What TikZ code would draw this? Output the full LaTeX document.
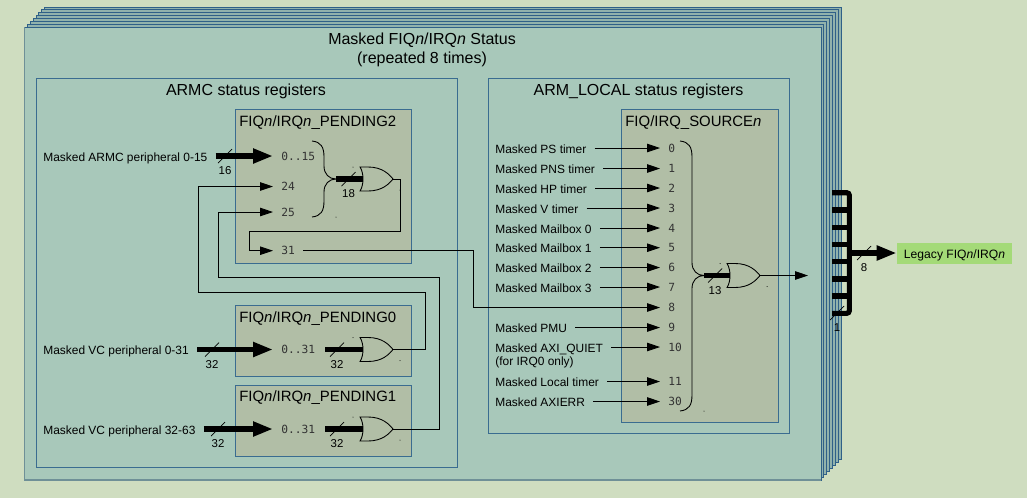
\documentclass[tikz,border=0pt]{standalone}
\usepackage{fontspec}
\setmainfont{Liberation Sans}
\newfontfamily\bitfont{DejaVu Sans Mono}
\usetikzlibrary{arrows.meta}
\definecolor{pagebg}{HTML}{CFDDC0}
\definecolor{stackfill}{HTML}{A8C8BA}
\definecolor{stackedge}{HTML}{2F6088}
\definecolor{stackgrey}{HTML}{6F9097}
\definecolor{regfill}{HTML}{B1BEA6}
\definecolor{regedge}{HTML}{3A6C90}
\definecolor{legacyfill}{HTML}{A4DA78}
\tikzset{
	stacklayer/.style={draw=stackedge, fill=stackgrey!40!stackfill, line width=0.5pt},
	groupbox/.style={draw=regedge, fill=stackfill, line width=0.5pt},
	regbox/.style={draw=regedge, fill=regfill, line width=0.5pt},
	bigtitle/.style={font=\fontsize{9.1}{10.8}\selectfont, inner sep=0pt, align=center},
	regtitle/.style={font=\fontsize{8.5}{10}\selectfont, inner sep=0pt, anchor=west},
	siglabel/.style={font=\fontsize{6.8}{8}\selectfont, text height=6.4pt, text depth=0.4pt, inner ysep=1pt, inner xsep=0.16cm, anchor=west},
	bitno/.style={font=\bitfont\fontsize{6.4}{8}\selectfont, text=black!80, inner ysep=1pt, inner xsep=0.16cm, anchor=west},
	bitlabel/.style={font=\fontsize{6.5}{8}\selectfont, inner sep=0pt},
	sigline/.style={line width=0.5pt},
	sigarrow/.style={line width=0.5pt, -{Triangle[length=0.26cm,width=0.17cm]}},
	busline/.style={line width=2.9pt},
	busarrow/.style={line width=2.9pt, -{Triangle[length=0.4cm,width=0.28cm]}},
	busslash/.style={line width=0.4pt},
}
% slash across a bus, with its width below
\def\buswidth(#1,#2)(#3:#4){\draw[busslash] ({#1-7},{#2+7}) -- ({#1+7},{#2-7}); \node[bitlabel] (#3) at ({#1},{#2+15}) {#4};}
% OR gate from back corner x and middle y
\def\orgate(#1,#2)#3{
	\draw[sigline] ({#1},{#2-12}) -- ({#1+8},{#2-12}) .. controls ({#1+22},{#2-12}) and ({#1+29},{#2-5}) .. ({#1+33},{#2})
		.. controls ({#1+29},{#2+5}) and ({#1+22},{#2+12}) .. ({#1+8},{#2+12}) -- ({#1},{#2+12})
		.. controls ({#1+4},{#2+6}) and ({#1+4},{#2-6}) .. cycle;
	\fill ({#1-7},{#2-12}) circle (0.5);
	\fill ({#1+40},{#2+11}) circle (0.5);
	\coordinate (#3in) at ({#1+3},{#2});
	\coordinate (#3out) at ({#1+33},{#2});
}
\def\busbrace(#1,#2,#3,#4)#5{
	\draw[sigline] ({#1},{#2}) .. controls ({#1+9},{#2+1}) and ({#1+12},{#2+6}) .. ({#1+12},{#2+16}) -- ({#1+12},{#3-13})
		.. controls ({#1+12},{#3-5}) and ({#1+17},{#3}) .. ({#1+24},{#3})
		.. controls ({#1+17},{#3}) and ({#1+12},{#3+5}) .. ({#1+12},{#3+13}) -- ({#1+12},{#4-16})
		.. controls ({#1+12},{#4-6}) and ({#1+9},{#4-1}) .. ({#1},{#4});
	\fill ({#1+24},{#4}) circle (0.5);
	\coordinate (#5) at ({#1+24},{#3});
}

\begin{document}
\begin{tikzpicture}[x=0.02cm, y=-0.02cm]
	\fill[pagebg] (0, 0) rectangle (1027, 498);
	\useasboundingbox (0, 0) rectangle (1027, 498);

	%%%%% stack of 8 %%%%%
	\foreach \k in {7,6,...,1}
		\draw[stacklayer] ({24.5+\k*2.86}, {27-\k*2.86}) rectangle ({821+\k*2.86}, {480-\k*3});
	\draw[stacklayer, fill=stackfill] (24.5, 27) rectangle (821, 480);
	\draw[line width=1.1pt, stackgrey] (24.5, 27) -- (24.5, 480) -- (821, 480);

	\node[bigtitle] (stacktitle) at (422, 50) {Masked FIQ\textit{n}/IRQ\textit{n} Status\\(repeated 8 times)};

	%%%%% ARMC %%%%%
	\draw[groupbox] (36.5, 78) rectangle (457, 467);
	\node[bigtitle] (armctitle) at (246, 91.5) {ARMC status registers};

	\draw[regbox] (235, 109.5) rectangle (411.5, 263);
	\draw[regbox] (235, 305.5) rectangle (411.5, 376.7);
	\draw[regbox] (235, 385.5) rectangle (411.5, 456);
	\node[regtitle] (pend2) at (239, 123) {FIQ\textit{n}/IRQ\textit{n}\_PENDING2};
	\node[regtitle] (pend0) at (239, 319) {FIQ\textit{n}/IRQ\textit{n}\_PENDING0};
	\node[regtitle] (pend1) at (239, 398) {FIQ\textit{n}/IRQ\textit{n}\_PENDING1};

	\node[siglabel] (armcin) at (35, 156) {Masked ARMC peripheral 0-15};
	\node[siglabel] (vc0in) at (35, 349.5) {Masked VC peripheral 0-31};
	\node[siglabel] (vc1in) at (35, 429) {Masked VC peripheral 32-63};

	\node[bitno] (p2a) at (273, 156) {0..15};
	\node[bitno] (p2b) at (273, 186.5) {24};
	\node[bitno] (p2c) at (273, 212) {25};
	\node[bitno] (p2d) at (273, 250.7) {31};
	\node[bitno] (p0a) at (273, 349.5) {0..31};
	\node[bitno] (p1a) at (273, 429) {0..31};

	\draw[busarrow] (armcin) -- (p2a);
	\draw[busarrow] (vc0in) -- (p0a);
	\draw[busarrow] (vc1in) -- (p1a);
	\buswidth(225,156)(w16:16)
	\buswidth(212,349.5)(w32a:32)
	\buswidth(218,429)(w32b:32)

	\orgate(360,179){gp2}
	\orgate(360,349.5){gp0}
	\orgate(360,429){gp1}

	\busbrace(312,141,179,217){bp2}
	\draw[busline] (bp2) -- (gp2in);
	\buswidth(348.5,179)(w18:18)
	\coordinate (bp0) at (325, 349.5);
	\coordinate (bp1) at (325, 429);
	\draw[busline] (bp0) -- (gp0in);
	\draw[busline] (bp1) -- (gp1in);
	\buswidth(337,349.5)(w32c:32)
	\buswidth(337,429)(w32d:32)

	\coordinate (c24a) at (425.6, 292);
	\coordinate (c24b) at (198, 292);
	\coordinate (c25a) at (439.6, 277);
	\coordinate (c25b) at (218, 277);
	\coordinate (c31a) at (400, 231.7);
	\coordinate (c31b) at (249.3, 250.7);
	\draw[sigarrow] (gp0out) -| (c24a) -- (c24b) |- (p2b);
	\draw[sigarrow] (gp1out) -| (c25a) -- (c25b) |- (p2c);
	\draw[sigarrow] (gp2out) -| (c31a) -| (c31b) -- (p2d);

	%%%%% ARM_LOCAL %%%%%
	\draw[groupbox] (488, 78) rectangle (789, 433);
	\node[bigtitle] (localtitle) at (638.5, 91.5) {ARM\_LOCAL status registers};
	\draw[regbox] (621, 109.5) rectangle (778, 422);
	\node[regtitle] (source) at (625, 123) {FIQ/IRQ\_SOURCE\textit{n}};

	\foreach \name/\y/\bit/\txt in {a/148/0/Masked PS timer, b/168.5/1/Masked PNS timer, c/188/2/Masked HP timer, d/208/3/Masked V timer,
			e/228/4/Masked Mailbox 0, f/247.7/5/Masked Mailbox 1, g/267.5/6/Masked Mailbox 2, h/287/7/Masked Mailbox 3,
			i/327.5/9/Masked PMU, j/347/10/Masked AXI\_QUIET, k/381.5/11/Masked Local timer, l/401.5/30/Masked AXIERR} {
		\node[siglabel] (lbl\name) at (487, \y) {\txt};
		\node[bitno] (src\name) at (660, \y) {\bit};
		\draw[sigarrow] (lbl\name) -- (src\name);
	}
	\node[siglabel] (lblquiet) at (487, 360.5) {(for IRQ0 only)};

	\node[bitno] (src8) at (660, 307.5) {8};
	\coordinate (c8) at (473, 307.5);
	\draw[sigarrow] (p2d) -| (c8) -- (src8);

	\busbrace(680,141,275.5,411){bsrc}
	\orgate(727,275.5){gsrc}
	\draw[busline] (bsrc) -- (gsrcin);
	\buswidth(715,275.5)(w13:13)
	\coordinate (stackout) at (808, 275.5);
	\draw[sigarrow] (gsrcout) -- (stackout);

	%%%%% legacy bus %%%%%
	\node[fill=legacyfill, font=\fontsize{6.9}{8}\selectfont, text height=6.4pt, text depth=0.4pt, minimum width=2.3cm, minimum height=0.42cm, inner sep=0pt] (legacy) at (954.5, 253) {Legacy FIQ\textit{n}/IRQ\textit{n}};
	\draw[busline, rounded corners=0.05cm] (832, 192.7) -- (849.3, 192.7) -- (849.3, 313.3) -- (832, 313.3);
	\foreach \y in {210,227.3,244.3,261.7,279,296}
		\draw[busline] (832, \y) -- (849.3, \y);
	\coordinate (busout) at (849.3, 253);
	\draw[busarrow] (busout) -- (legacy);
	\buswidth(864,253)(w8:8)
	\buswidth(837,313)(w1:1)
\end{tikzpicture}
\end{document}
